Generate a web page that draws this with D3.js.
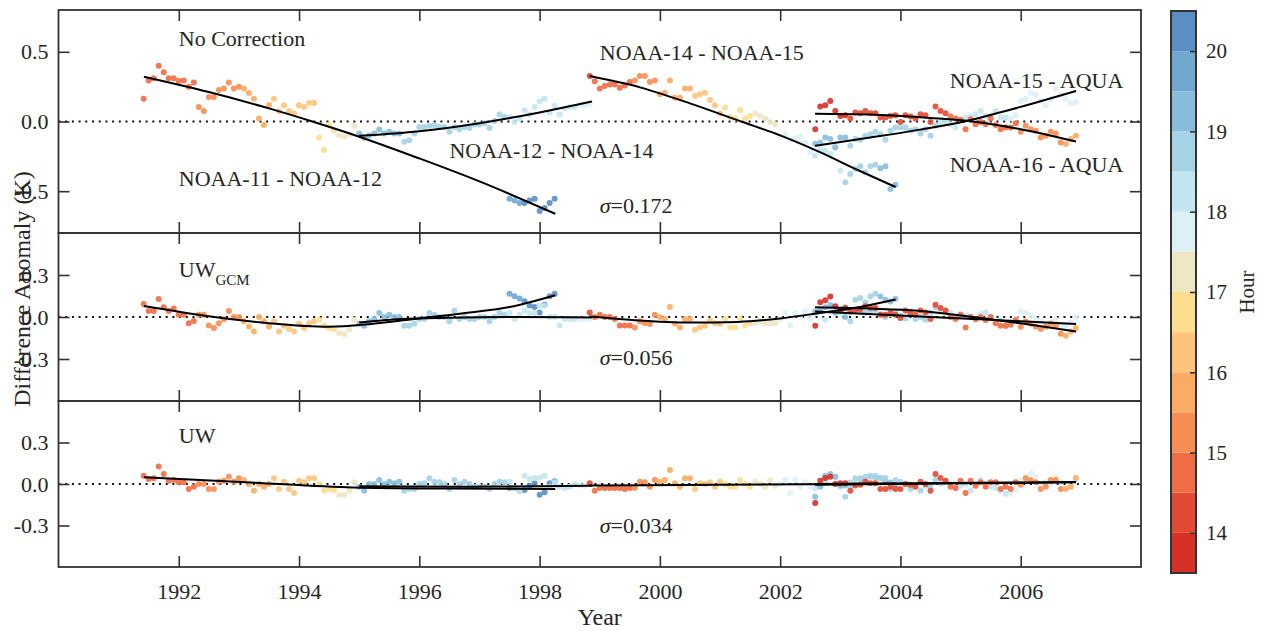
<!DOCTYPE html>
<html>
<head>
<meta charset="utf-8">
<script src="https://cdn.jsdelivr.net/npm/d3@7"></script>
<style>
  html, body { margin: 0; padding: 0; background: #fff; }
  svg text { font-family: "Liberation Serif", "DejaVu Serif", serif; fill: #262626; }
</style>
</head>
<body>
<svg id="chart" width="1261" height="631"></svg>
<script>
// ---------------------------------------------------------------
// Monthly difference anomalies (K) for satellite pairs.
// Each series starts at [year, month] and has one value per month.
// Three versions: no correction, UW_GCM, UW.
// ---------------------------------------------------------------

const yearTicks = [1992, 1994, 1996, 1998, 2000, 2002, 2004, 2006];
const hourTicks = [14, 15, 16, 17, 18, 19, 20];
const sigmaLabels = ["0.172", "0.056", "0.034"];

// NOAA-11 - NOAA-12, first segment
const n1112EarlyStart = [1991, 6];
const n1112EarlyHours = [14.8,14.8,14.8,14.8,14.8,14.9,14.9,14.9,14.9,14.9,14.9,
  15.1,15.1,15.2,15.2,15.3,15.3,15.4,15.4,15.4,
  15.6,15.6,15.7,15.7,15.8,15.9,
  16.1,16.1,16.2,16.2,16.3,16.3,16.4,16.4,16.45,
  16.6,16.7,16.8,16.9,
  17.1,17.2,17.2,17.3];
const n1112EarlyRaw = [0.164,0.295,0.31,0.40,0.354,0.31,0.31,0.29,0.295,0.25,
  0.28,0.104,0.076,0.176,0.176,0.226,0.236,0.28,0.236,0.25,
  0.236,0.204,0.164,0.021,-0.026,0.119,0.164,0.074,0.116,0.076,
  0.057,0.116,0.104,0.133,0.133,-0.117,-0.205,-0.026,-0.062,-0.098,
  -0.11,-0.091,-0.031];
const n1112EarlyGcm = [0.093,0.043,0.043,0.129,0.069,0.043,0.061,0.016,0.016,-0.045,
  -0.029,0.016,0.016,-0.061,-0.079,-0.045,-0.016,0.043,0,0,
  -0.031,-0.067,-0.103,0,-0.031,-0.067,-0.031,-0.103,-0.062,-0.086,
  -0.103,-0.048,-0.079,-0.045,-0.031,-0.019,-0.062,-0.079,-0.086,-0.114,
  -0.121,-0.091,-0.019];
const n1112EarlyUw = [0.06,0.036,0.041,0.127,0.072,0.024,0.029,0.012,0.012,-0.036,
  -0.019,0,0,-0.036,-0.036,0.017,0.024,0.053,0.017,0.041,
  0.029,0,-0.048,0,-0.019,0,0.041,-0.036,0.017,-0.036,
  -0.065,0.024,0.012,0.041,0.041,0,-0.048,-0.036,-0.043,-0.08,
  -0.08,-0.048,0.012];

// NOAA-11 - NOAA-12, second segment
const n1112LateStart = [1997, 7];
const n1112LateHours = [19.7,19.8,19.9,20.0,20.1,20.1,20.2,20.2,20.3,20.3];
const n1112LateRaw = [-0.555,-0.567,-0.584,-0.584,-0.567,-0.555,-0.643,-0.62,-0.584,-0.555];
const n1112LateGcm = [0.166,0.149,0.132,0.113,0.082,0.072,0.033,0.088,0.149,0.166];
const n1112LateUw = [-0.029,-0.029,-0.048,-0.043,-0.012,0.005,-0.077,-0.06,0.005,0.019];

// NOAA-12 - NOAA-14
const n1214Start = [1995, 1];
const n1214Hours = [19.2,19.2,19.15,19.15,19.1,19.1,19.1,19.05,19.05,
  18.95,18.95,18.9,18.9,18.9,18.85,18.85,18.8,18.8,18.8,18.75,18.75,18.7,18.7,18.7,18.65,18.65,18.6,18.6,18.55,18.55,
  18.45,18.45,18.4,18.4,18.35,18.35,18.3,18.3,18.25,18.2,18.2,
  18.1,18.1,18.05,17.95,17.9,17.9];
const n1214Raw = [-0.086,-0.117,-0.10,-0.086,-0.057,-0.086,-0.074,-0.086,-0.086,-0.146,
  -0.134,-0.086,-0.039,-0.039,-0.031,-0.026,-0.039,-0.039,-0.074,-0.039,
  -0.057,-0.039,-0.046,-0.021,-0.021,-0.012,-0.046,0.004,0.05,0.033,
  0.033,-0.003,0.021,0.081,0.05,0.104,0.145,0.164,0.064,0.111,
  0.05,0.093,0.104,0.104,0.116,0.116,0.129];
const n1214Gcm = [-0.048,-0.062,-0.03,-0.014,0.029,0,0.016,0,0,-0.062,
  -0.062,-0.048,-0.014,-0.014,0.029,0.016,0,0,-0.031,0.045,
  -0.014,0,-0.014,-0.014,0,0,-0.031,0,0.029,0.016,
  0.029,-0.014,0.016,0.045,0.029,0.029,0.081,0.081,0,0,
  -0.061,-0.014,-0.014,-0.014,-0.014,-0.014,-0.01];
const n1214Uw = [-0.019,-0.048,0,0,0.029,0,0.017,0.005,0.017,-0.048,
  -0.036,-0.036,0,0.005,0.041,0.017,0.012,0,-0.036,0.029,
  0,0.017,0,-0.019,-0.019,-0.019,-0.036,0,0.017,0.012,
  0.017,-0.029,-0.048,0.06,0.036,0.043,0.043,0.06,-0.019,0.012,
  -0.019,-0.029,-0.019,0,-0.012,-0.012,0];

// NOAA-14 - NOAA-15
const n1415Start = [1998, 11];
const n1415Hours = [14.3,
  14.6,14.6,14.7,14.7,14.7,14.8,14.8,14.9,
  15.1,15.2,15.2,15.3,15.4,
  15.6,15.6,15.7,15.7,15.8,15.8,15.9,
  16.1,16.2,16.2,16.3,16.4,16.4,
  16.6,16.7,16.7,16.8,16.8,16.9,
  17.1,17.2,17.3,17.3,17.4,
  17.6,17.7,17.7,17.8,17.8,17.9,17.9,
  18.1,18.2,18.2,18.3,18.4,18.4,
  18.6,18.6,18.7,18.8,18.8,18.9,18.9,
  19.1,19.1,19.2,19.3];
const n1415Raw = [0.326,0.288,0.236,0.254,0.266,0.266,0.243,0.259,0.283,0.295,
  0.326,0.326,0.283,0.295,0.195,0.207,0.295,0.171,0.171,0.236,
  0.236,0.183,0.195,0.207,0.154,0.116,0.057,0.1,0.033,0.021,
  0.081,0.021,0.04,0.057,0.04,0.021,-0.003,-0.019,-0.107,-0.091,
  -0.131,-0.121,-0.11,-0.15,-0.217,-0.246,-0.2,-0.21,-0.234,-0.181,
  -0.353,-0.436,-0.376,-0.341,-0.321,-0.364,-0.321,-0.31,-0.336,-0.321,
  -0.484,-0.453];
const n1415Gcm = [0.033,0,0.016,0,0,-0.014,-0.061,-0.061,-0.061,-0.075,
  -0.031,-0.045,-0.05,0.016,0,-0.014,0.072,-0.048,-0.075,-0.014,
  -0.014,-0.091,-0.075,-0.062,-0.027,-0.045,-0.048,-0.014,-0.075,-0.075,
  -0.014,-0.061,-0.045,-0.045,-0.031,-0.045,-0.045,-0.045,-0.014,0.029,
  -0.061,0.029,0,0.04,-0.014,0.029,0.045,-0.019,0.06,0.05,
  0.03,0.07,0.04,0.124,0.136,0.104,0.147,0.166,0.147,0.124,
  0.11,0.13];
const n1415Uw = [0.005,-0.048,-0.029,-0.029,-0.029,-0.029,-0.029,-0.036,-0.029,-0.029,
  0.017,0.012,-0.019,0.029,0.017,0.029,0.101,0.005,-0.019,0.041,
  0.041,-0.036,0.005,0,0.012,-0.019,0.017,0,-0.019,-0.019,
  0.029,0,-0.019,0.017,0,-0.019,0.029,-0.012,0,0.029,
  -0.065,0.029,-0.019,0.012,-0.019,-0.03,-0.012,0.02,0.06,0.053,
  -0.02,-0.092,0.01,0.041,0.03,0.053,0.06,0.043,0.043,0.02,
  0.01,-0.01];

// NOAA-15 - AQUA and NOAA-16 - AQUA
const aquaStart = [2002, 8];
const n15AquaHours = [19.2,19.2,19.1,19.1,19.1,19.05,19.05,18.95,18.95,18.9,
  18.9,18.85,18.85,18.8,18.8,18.75,18.7,18.7,18.65,18.65,18.6,18.6,18.55,18.55,18.52,
  18.45,18.4,18.4,18.35,18.35,18.3,18.3,18.25,18.2,18.2,18.15,18.1,18.1,18.05,
  17.95,17.95,17.9,17.9,17.85,17.85,17.8,17.8,17.75,17.75,17.7,17.7,17.65,17.65];
const n15AquaRaw = [-0.16,-0.15,-0.114,-0.126,-0.186,-0.114,-0.114,-0.174,-0.126,-0.131,
  -0.103,-0.091,-0.074,-0.091,-0.131,-0.067,-0.043,-0.043,-0.043,-0.067,
  -0.055,-0.086,-0.055,-0.103,-0.03,-0.007,0.004,-0.019,-0.043,0.016,
  0.029,0.036,0.052,0.076,0.04,0.04,0.076,0.029,0.029,0.021,
  0.045,0.147,0.164,0.207,0.19,0.15,0.116,0.159,0.236,0.19,
  0.159,0.131,0.14];
const n15AquaGcm = [0.04,0.05,0.07,0.085,0.03,0.045,0,-0.03,0.05,0.04,
  0.03,0.045,0.05,0.02,0,0.02,0.04,0.01,-0.01,0.02,
  -0.014,0,-0.02,0.03,0.07,0.05,0.045,0.03,0,0.02,
  0.01,0,-0.02,0.02,0.03,0,-0.03,-0.02,-0.07,-0.03,
  -0.01,0.04,0.03,0.01,-0.02,-0.03,-0.05,-0.04,-0.02,-0.055,
  -0.06,-0.04,0];
const n15AquaUw = [-0.092,-0.019,0.06,0.072,0.053,-0.012,-0.01,-0.019,0,0.041,
  0.024,0.053,0.06,0.043,0.043,-0.036,0.029,0.017,0,-0.036,
  -0.01,-0.048,-0.012,-0.02,0.029,0,0.012,0,-0.029,-0.012,
  0,-0.048,0,0.029,0,-0.019,-0.029,-0.048,-0.07,-0.07,
  -0.043,0.024,0.05,0.077,0.053,0,0.012,0,0.053,0.012,
  -0.029,-0.019,0.024];

const n16AquaHours = [13.8,13.8,13.8,13.9,13.9,13.9,13.95,
  14.05,14.1,14.1,14.1,14.15,14.15,14.2,14.2,14.2,14.25,14.25,14.3,14.3,14.3,14.35,14.35,14.4,14.4,14.45,14.45,
  14.55,14.6,14.6,14.65,14.65,14.7,14.7,14.75,14.8,14.8,14.85,14.9,14.9,14.95,
  15.05,15.1,15.1,15.2,15.2,15.3,15.3,15.4,15.45,
  15.6,15.7,15.8];
const n16AquaRaw = [-0.055,0.107,0.116,0.147,0.076,0.04,0.045,0.021,0.064,0.059,
  0.076,0.059,0.059,0.029,0.029,0.04,0.045,-0.003,0.045,0.036,
  0.021,0.052,0.045,-0.003,0.107,0.076,0.059,0.036,0.021,0.011,
  -0.055,0.016,-0.019,-0.003,-0.019,0.021,-0.026,-0.055,-0.043,-0.043,
  -0.012,-0.074,-0.031,-0.055,-0.067,-0.114,-0.103,-0.074,-0.086,-0.15,
  -0.162,-0.126,-0.103];
const n16AquaGcm = [-0.062,0.105,0.119,0.147,0.076,0.052,0.064,0.04,0.052,0.057,
  0.076,0.064,0.064,0.016,0.016,0.03,0.016,-0.007,0.047,0.033,
  0.016,0.047,0.033,-0.014,0.088,0.064,0.047,0,-0.014,0.016,
  -0.075,0,-0.014,0,-0.021,0,-0.045,-0.062,-0.062,-0.055,
  -0.021,-0.07,-0.031,-0.048,-0.067,-0.086,-0.07,-0.048,-0.062,-0.12,
  -0.134,-0.103,-0.079];
const n16AquaUw = [-0.137,0.024,0.043,0.053,0,0.005,0.005,-0.048,-0.01,-0.005,
  0.017,0.005,0.005,-0.036,-0.036,-0.02,-0.036,-0.036,0,-0.005,
  -0.019,0.017,0,-0.048,0.072,0.043,0.024,-0.019,-0.029,0.024,
  -0.065,0.024,-0.012,0.012,-0.019,0.012,0.012,-0.036,-0.019,-0.036,
  0.012,-0.005,0.041,0.029,0.012,-0.036,-0.019,0.029,0.029,-0.036,
  -0.036,-0.019,0.043];

// Fitted trend curves, [year, anomaly] knots, one list per version
const fitsRaw = [
  [[1991.42,0.321],[1992.5,0.211],[1993.5,0.094],[1994.22,0.0],[1995.0,-0.109],[1996.0,-0.265],[1997.0,-0.43],[1998.26,-0.662]],
  [[1995.0,-0.103],[1996.0,-0.07],[1997.0,-0.012],[1998.0,0.065],[1998.87,0.143]],
  [[1998.83,0.326],[1999.67,0.245],[2000.5,0.13],[2001.35,0.0],[2002.0,-0.1],[2002.66,-0.22],[2003.3,-0.35],[2003.92,-0.47]],
  [[2002.58,-0.174],[2003.5,-0.115],[2004.3,-0.06],[2005.1,0.004],[2006.0,0.105],[2006.92,0.219]],
  [[2002.58,0.055],[2003.5,0.05],[2004.5,0.025],[2005.2,0.0],[2006.0,-0.055],[2006.92,-0.143]]
];
const fitsGcm = [
  [[1991.42,0.078],[1992.5,0.005],[1993.5,-0.045],[1994.5,-0.07],[1995.2,-0.05],[1996.0,-0.01],[1996.8,0.03],[1997.5,0.072],[1998.26,0.156]],
  [[1995.0,-0.04],[1995.7,-0.015],[1996.5,-0.005],[1997.5,0.0],[1998.87,-0.003]],
  [[1998.83,0.003],[1999.5,-0.02],[2000.5,-0.04],[2001.3,-0.035],[2002.0,-0.01],[2002.6,0.025],[2003.3,0.07],[2003.92,0.125]],
  [[2002.58,0.04],[2004.0,0.01],[2005.5,-0.02],[2006.92,-0.05]],
  [[2002.58,0.069],[2003.5,0.06],[2004.3,0.045],[2005.2,0.0],[2006.0,-0.045],[2006.92,-0.103]]
];
const fitsUw = [
  [[1991.42,0.048],[1993.2,0.01],[1994.9,-0.025],[1996.5,-0.033],[1998.26,-0.036]],
  [[1995.0,-0.017],[1996.9,-0.019],[1998.87,-0.012]],
  [[1998.83,-0.01],[2001.0,-0.006],[2003.92,0.003]],
  [[2002.58,-0.005],[2006.92,0.012]],
  [[2002.58,0.0],[2006.92,0.015]]
];

// Colour of each half-hour bin, from 13.5 h (bottom) to 20.5 h (top)
const hourColors = ["#d73027","#e34a33","#f06c45","#f88d52","#fcac62","#fec47c","#fddd8e",
                    "#ede7c3","#ddf0f6","#c3e5f0","#a4d3e6","#88bcdc","#6fa7cf","#5b8ec4"];

// ---------------------------------------------------------------
const series = [
  { start: n1112EarlyStart, hours: n1112EarlyHours, values: [n1112EarlyRaw, n1112EarlyGcm, n1112EarlyUw] },
  { start: n1112LateStart,  hours: n1112LateHours,  values: [n1112LateRaw,  n1112LateGcm,  n1112LateUw] },
  { start: n1214Start,      hours: n1214Hours,      values: [n1214Raw,      n1214Gcm,      n1214Uw] },
  { start: n1415Start,      hours: n1415Hours,      values: [n1415Raw,      n1415Gcm,      n1415Uw] },
  { start: aquaStart,       hours: n15AquaHours,    values: [n15AquaRaw,    n15AquaGcm,    n15AquaUw] },
  { start: aquaStart,       hours: n16AquaHours,    values: [n16AquaRaw,    n16AquaGcm,    n16AquaUw] }
];
const fitSets = [fitsRaw, fitsGcm, fitsUw];

const svg = d3.select("#chart");
const FRAME = "#333";
const x = d3.scaleLinear().domain([1990, 2008]).range([58.5, 1141]);
const hourColor = d3.scaleQuantize().domain([13.5, 20.5]).range(hourColors);
const monthYear = (start, i) => start[0] + (start[1] - 1 + i) / 12;

const panels = [
  { top: 10,  bottom: 233, domain: [-0.8, 0.8], ticks: [-0.5, 0, 0.5] },
  { top: 233, bottom: 401, domain: [-0.6, 0.6], ticks: [-0.3, 0, 0.3] },
  { top: 401, bottom: 567, domain: [-0.6, 0.6], ticks: [-0.3, 0, 0.3] }
];

function styleAxis(sel) {
  sel.select(".domain").remove();
  sel.selectAll(".tick line").attr("stroke", FRAME).attr("stroke-width", 1.6);
  sel.selectAll(".tick text").attr("font-size", 22).attr("fill", "#262626")
     .attr("font-family", "Liberation Serif, DejaVu Serif, serif");
}

panels.forEach((p, pi) => {
  const y = d3.scaleLinear().domain(p.domain).range([p.bottom, p.top]);
  const g = svg.append("g");

  // zero reference
  g.append("line")
    .attr("x1", x.range()[0]).attr("x2", x.range()[1])
    .attr("y1", y(0)).attr("y2", y(0))
    .attr("stroke", "#111").attr("stroke-width", 2)
    .attr("stroke-dasharray", "2,4.7");

  // monthly anomalies coloured by local hour
  series.forEach(s => {
    const pts = s.values[pi].map((v, i) => ({
      t: monthYear(s.start, i), v,
      h: s.hours[Math.min(i, s.hours.length - 1)]
    }));
    g.append("g").selectAll("circle").data(pts).join("circle")
      .attr("cx", d => x(d.t)).attr("cy", d => y(d.v)).attr("r", 3)
      .attr("fill", d => hourColor(d.h)).attr("fill-opacity", 0.9);
  });

  // trend curves
  const line = d3.line().x(d => x(d[0])).y(d => y(d[1])).curve(d3.curveMonotoneX);
  fitSets[pi].forEach(f => {
    g.append("path").attr("d", line(f))
      .attr("fill", "none").attr("stroke", "#000").attr("stroke-width", 2);
  });

  // axes with inward ticks on all four sides
  const fmt = v => v.toFixed(1);
  g.append("g").attr("transform", `translate(${x.range()[0]},0)`)
    .call(d3.axisLeft(y).tickValues(p.ticks).tickSize(-11).tickPadding(10).tickFormat(fmt))
    .call(styleAxis);
  g.append("g").attr("transform", `translate(${x.range()[1]},0)`)
    .call(d3.axisRight(y).tickValues(p.ticks).tickSize(-11).tickFormat(""))
    .call(styleAxis);
  g.append("g").attr("transform", `translate(0,${p.top})`)
    .call(d3.axisTop(x).tickValues(yearTicks).tickSize(-11).tickFormat(""))
    .call(styleAxis);
  g.append("g").attr("transform", `translate(0,${p.bottom})`)
    .call(d3.axisBottom(x).tickValues(yearTicks).tickSize(-11).tickPadding(16)
      .tickFormat(pi === 2 ? d3.format("d") : ""))
    .call(styleAxis);

  g.append("rect")
    .attr("x", x.range()[0]).attr("y", p.top)
    .attr("width", x.range()[1] - x.range()[0]).attr("height", p.bottom - p.top)
    .attr("fill", "none").attr("stroke", FRAME).attr("stroke-width", 1.8);

  // sigma label
  const sig = g.append("text").attr("x", x(1999)).attr("y", y(pi === 0 ? -0.656 : (pi === 1 ? -0.343 : -0.354)))
    .attr("font-size", 22);
  sig.append("tspan").attr("font-style", "italic").text("σ");
  sig.append("tspan").text("=" + sigmaLabels[pi]);

  // panel titles
  if (pi === 0) {
    const notes = [
      ["No Correction", 1992, 0.542],
      ["NOAA-11 - NOAA-12", 1992, -0.463],
      ["NOAA-14 - NOAA-15", 1999, 0.441],
      ["NOAA-12 - NOAA-14", 1996.5, -0.262],
      ["NOAA-15 - AQUA", 2004.82, 0.24],
      ["NOAA-16 - AQUA", 2004.82, -0.362]
    ];
    notes.forEach(([t, yr, v]) => {
      g.append("text").attr("x", x(yr)).attr("y", y(v)).attr("font-size", 22).text(t);
    });
  } else if (pi === 1) {
    const t = g.append("text").attr("x", x(1992)).attr("y", y(0.286)).attr("font-size", 22);
    t.append("tspan").text("UW");
    t.append("tspan").attr("font-size", 15).attr("dy", 8).text("GCM");
  } else {
    g.append("text").attr("x", x(1992)).attr("y", y(0.296)).attr("font-size", 22).text("UW");
  }
});

// axis titles
svg.append("text").attr("x", (x.range()[0] + x.range()[1]) / 2).attr("y", 625)
  .attr("text-anchor", "middle").attr("font-size", 24).text("Year");
svg.append("text").attr("transform", "translate(30,289) rotate(-90)")
  .attr("text-anchor", "middle").attr("font-size", 24).text("Difference Anomaly (K)");

// colour bar for local hour
const cb = { x: 1171, w: 25 };
const cy = d3.scaleLinear().domain([13.5, 20.5]).range([573, 11]);
const bins = hourColors.map((c, i) => ({ lo: 13.5 + 0.5 * i, c }));
svg.append("g").selectAll("rect").data(bins).join("rect")
  .attr("x", cb.x).attr("width", cb.w)
  .attr("y", d => cy(d.lo + 0.5)).attr("height", d => cy(d.lo) - cy(d.lo + 0.5))
  .attr("fill", d => d.c);
svg.append("g").attr("transform", `translate(${cb.x + cb.w},0)`)
  .call(d3.axisRight(cy).tickValues(hourTicks).tickSize(-6).tickPadding(10).tickFormat(d3.format("d")))
  .call(styleAxis)
  .call(s => s.selectAll(".tick text").attr("font-size", 21));
svg.append("rect").attr("x", cb.x).attr("y", cy(20.5)).attr("width", cb.w)
  .attr("height", cy(13.5) - cy(20.5))
  .attr("fill", "none").attr("stroke", FRAME).attr("stroke-width", 2);
svg.append("text").attr("transform", "translate(1254,292) rotate(-90)")
  .attr("text-anchor", "middle").attr("font-size", 21).text("Hour");
</script>
</body>
</html>
